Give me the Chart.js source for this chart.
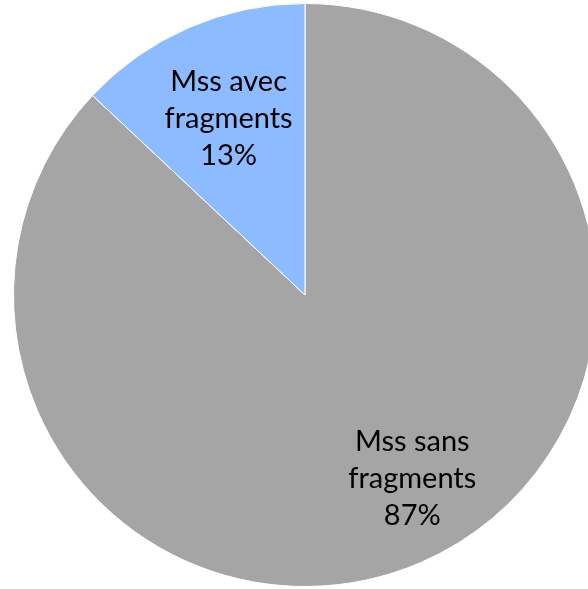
<!DOCTYPE html>
<html>
<head>
<meta charset="utf-8">
<script src="https://cdn.jsdelivr.net/npm/chart.js@4"></script>
<style>
    html, body { margin: 0; padding: 0; background: #fff; overflow: hidden; }
    #wrap { position: absolute; left: 0; top: 0; width: 610px; height: 590px; }
</style>
</head>
<body>
<div id="wrap"><canvas id="pieChart"></canvas></div>
<script>
const categories = ['Mss sans fragments', 'Mss avec fragments'];
const labelLines = [['Mss sans', 'fragments'], ['Mss avec', 'fragments']];
const values = [87, 13];
const colors = ['#A5A5A5', '#8DBBFF'];

// draws the category + percent text inside each slice
const sliceLabels = {
    id: 'sliceLabels',
    afterDatasetsDraw(chart, args, opts) {
        const ctx = chart.ctx;
        const meta = chart.getDatasetMeta(0);
        const total = values.reduce((a, b) => a + b, 0);
        ctx.save();
        ctx.font = opts.font;
        ctx.fillStyle = '#000';
        ctx.textAlign = 'center';
        ctx.textBaseline = 'middle';
        meta.data.forEach((arc, i) => {
            const p = arc.getProps(['x', 'y', 'startAngle', 'endAngle', 'outerRadius'], true);
            const mid = (p.startAngle + p.endAngle) / 2 + opts.shift[i];
            const r = p.outerRadius * opts.frac[i];
            const cx = p.x + Math.cos(mid) * r;
            const cy = p.y + Math.sin(mid) * r;
            const lines = labelLines[i].concat([Math.round(values[i] / total * 100) + '%']);
            lines.forEach((t, k) => {
                ctx.fillText(t, cx, cy + (k - (lines.length - 1) / 2) * opts.lineHeight);
            });
        });
        ctx.restore();
    }
};

new Chart(document.getElementById('pieChart'), {
    type: 'pie',
    data: {
        labels: categories,
        datasets: [{
            data: values,
            backgroundColor: colors,
            borderColor: '#fff',
            borderWidth: 1
        }]
    },
    options: {
        responsive: true,
        maintainAspectRatio: false,
        animation: false,
        layout: { padding: 3 },
        plugins: {
            legend: { display: false },
            tooltip: { enabled: false },
            sliceLabels: {
                font: '29px Lato, "Open Sans", sans-serif',
                lineHeight: 37,
                frac: [0.73, 0.66],
                shift: [-0.12, 0]
            }
        }
    },
    plugins: [sliceLabels]
});
</script>
</body>
</html>
